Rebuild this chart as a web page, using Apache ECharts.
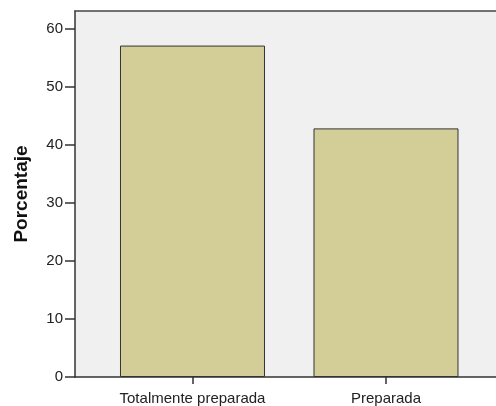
<!DOCTYPE html>
<html><head><meta charset="utf-8">
<script src="https://cdn.jsdelivr.net/npm/echarts@6/dist/echarts.min.js"></script>
<style>html,body{margin:0;padding:0;background:#fff}#c{width:496px;height:406px}</style>
</head><body><div id="c"></div>
<script>
const categories = ["Totalmente preparada", "Preparada"];
const values = [57.14, 42.86];
const yTicks = [0, 10, 20, 30, 40, 50, 60];
const yTitle = "Porcentaje";

const positions = categories.map((c, i) => i + 1);
const chart = echarts.init(document.getElementById('c'));
const font = 'Arial, Liberation Sans';
chart.setOption({
  animation: false,
  grid: {left: 75, right: 0, top: 11, bottom: 29, show: true, backgroundColor: '#f0f0f0', borderWidth: 0},
  xAxis: [{
    type: 'value', min: 0.3928, max: 2.5685,
    splitLine: {show: false},
    axisLine: {show: true, lineStyle: {color: '#333', width: 1.5}},
    axisTick: {show: true, length: 7, customValues: positions, lineStyle: {color: '#333', width: 1.5}},
    axisLabel: {customValues: positions, formatter: v => categories[Math.round(v) - 1] || '', color: '#222', fontFamily: font, fontSize: 15, margin: 14}
  }, {
    type: 'value', position: 'top', min: 0.3928, max: 2.5685,
    splitLine: {show: false},
    axisLine: {show: true, lineStyle: {color: '#444', width: 1.5}},
    axisTick: {show: false}, axisLabel: {show: false}
  }],
  yAxis: {
    type: 'value', min: 0, max: 63.1,
    name: yTitle, nameLocation: 'middle', nameGap: 44,
    nameTextStyle: {fontFamily: font, fontWeight: 'bold', fontSize: 19, color: '#111'},
    splitLine: {show: false},
    axisLine: {show: true, lineStyle: {color: '#333', width: 1.5}},
    axisTick: {show: true, length: 10, customValues: yTicks, lineStyle: {color: '#333', width: 1.5}},
    axisLabel: {customValues: yTicks, color: '#222', fontFamily: font, fontSize: 15, margin: 12}
  },
  series: [{
    type: 'bar', barWidth: 145,
    data: positions.map((p, i) => [p, values[i]]),
    itemStyle: {color: '#d3ce97', borderColor: '#333', borderWidth: 1}
  }]
});
</script></body></html>
